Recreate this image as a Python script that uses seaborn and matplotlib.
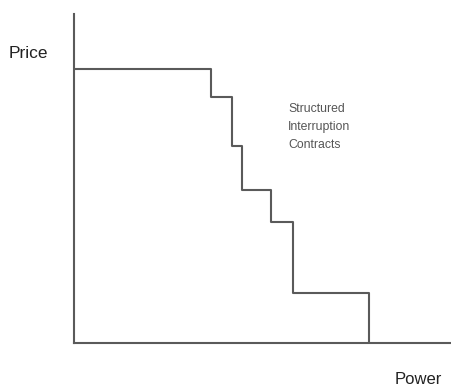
import matplotlib
matplotlib.use('Agg')
import matplotlib.pyplot as plt
import seaborn as sns
import pandas as pd

# step points of the curve (power, price), arbitrary units
power = [0, 36.3, 41.9, 44.5, 52.2, 58.0, 78.2]
price = [83.4, 74.7, 59.9, 46.5, 36.9, 15.1, 0]
note = 'Structured\nInterruption\nContracts'

sns.set_style('white')
plt.rcParams['font.family'] = ['Liberation Sans', 'DejaVu Sans']

df = pd.DataFrame({'Power': power, 'Price': price})

fig = plt.figure(figsize=(4.51, 3.87), dpi=100)
ax = fig.add_axes([74 / 451, 44 / 387, 377 / 451, 329 / 387])

sns.lineplot(data=df, x='Power', y='Price', drawstyle='steps-post',
             color='#5a5a5a', linewidth=1.5, ax=ax)

ax.set_xlim(0, 100)
ax.set_ylim(0, 100)
ax.set_xticks([])
ax.set_yticks([])
ax.set_xlabel('')
ax.set_ylabel('')
for s in ['top', 'right']:
    ax.spines[s].set_visible(False)
for s in ['left', 'bottom']:
    ax.spines[s].set_color('#5a5a5a')
    ax.spines[s].set_linewidth(1.5)

ax.text(56.8, 73.0, note, fontsize=8.8, color='#555555', va='top', ha='left',
        linespacing=1.7)

fig.text(9 / 451, 1 - 54 / 387, 'Price', fontsize=12.5, ha='left', va='center',
         color='#222222')
fig.text(395 / 451, 1 - 379 / 387, 'Power', fontsize=12, ha='left', va='center',
         color='#222222')

fig.savefig('out.png', dpi=100)
